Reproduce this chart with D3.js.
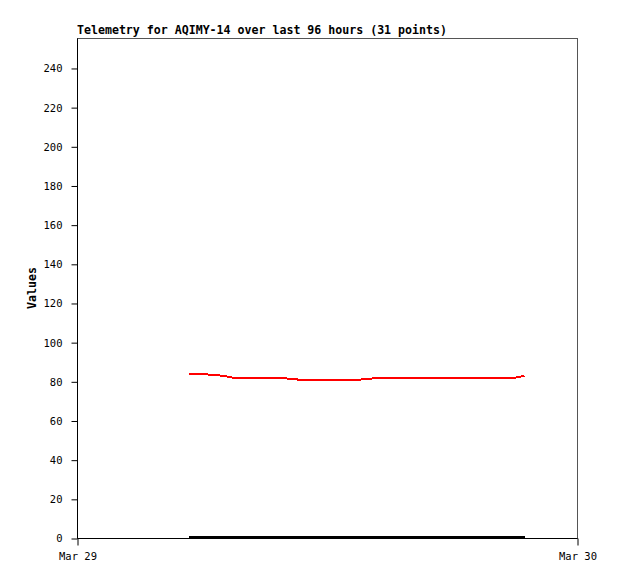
<!DOCTYPE html>
<html><head><meta charset="utf-8">
<script src="https://cdn.jsdelivr.net/npm/d3@7"></script>
<style>body{margin:0;background:#fff}svg{display:block}</style>
</head><body>
<script>
const title = "Telemetry for AQIMY-14 over last 96 hours (31 points)";
const yLabel = "Values";
const yTicks = [0,20,40,60,80,100,120,140,160,180,200,220,240];
const xTickDates = ["2024-03-29T00:00", "2024-03-30T00:00"];
const xTickLabels = ["Mar 29", "Mar 30"];
// 31 samples, ~32 min apart
const startTime = "2024-03-29T05:23";
const stepMinutes = 32.2;
const redValues = [84,84,83.6,83.1,82,82,82,82,82,81.6,81,81,81,81,81,81,81.5,82,82,82,82,82,82,82,82,82,82,82,82,82,83];
const blackValues = [0,0,0,0,0,0,0,0,0,0,0,0,0,0,0,0,0,0,0,0,0,0,0,0,0,0,0,0,0,0,0];

const W = 618, H = 579;
const m = {left:77, right:577, top:38, bottom:538};
const svg = d3.select("body").append("svg").attr("width",W).attr("height",H);

const t0 = new Date(startTime);
const times = redValues.map((_,i)=> new Date(t0.getTime() + i*stepMinutes*60000));

const x = d3.scaleTime().domain([new Date(xTickDates[0]), new Date(xTickDates[1])]).range([m.left, m.right]);
const y = d3.scaleLinear().domain([0,255.3]).range([m.bottom, m.top]);

// frame
svg.append("rect").attr("x",m.left+0.5).attr("y",m.top+0.5)
  .attr("width",m.right-m.left).attr("height",m.bottom-m.top)
  .attr("fill","none").attr("stroke","#555").attr("stroke-width",1);

const line = d3.line().x((d,i)=>x(times[i])).y(d=>y(d));
svg.append("path").datum(blackValues).attr("d",line)
  .attr("fill","none").attr("stroke","#000").attr("stroke-width",2).attr("transform","translate(0,-1)")
  .attr("shape-rendering","crispEdges");
svg.append("path").datum(redValues).attr("d",line)
  .attr("fill","none").attr("stroke","#f00").attr("stroke-width",2).attr("transform","translate(0,0.5)")
  .attr("shape-rendering","crispEdges");

const tickFont = "'DejaVu Sans Mono', monospace";
const yAxis = d3.axisLeft(y).tickValues(yTicks).tickSize(6).tickPadding(9);
const gy = svg.append("g").attr("transform",`translate(${m.left+0.5},0.5)`).call(yAxis);
gy.select(".domain").remove();
gy.append("line").attr("x1",0).attr("x2",0).attr("y1",m.top).attr("y2",m.bottom).attr("stroke","#000");
gy.selectAll("text").attr("font-family",tickFont).attr("font-size","10.5px").attr("fill","#000");

const xAxis = d3.axisBottom(x).tickValues(xTickDates.map(d=>new Date(d)))
  .tickFormat((d,i)=>xTickLabels[i]).tickSize(7).tickPadding(7);
const gx = svg.append("g").attr("transform",`translate(0.5,${m.bottom+0.5})`).call(xAxis);
gx.select(".domain").remove();
gx.append("line").attr("x1",m.left).attr("x2",m.right).attr("y1",0).attr("y2",0).attr("stroke","#000");
gx.selectAll("text").attr("font-family",tickFont).attr("font-size","10.5px").attr("fill","#000");

svg.append("text").attr("x",m.left).attr("y",34).text(title)
  .attr("font-family","'DejaVu Sans Mono', monospace").attr("font-weight","bold").attr("font-size","11.6px");

svg.append("text").attr("transform",`translate(36,${(m.top+m.bottom)/2}) rotate(-90)`)
  .attr("text-anchor","middle").text(yLabel)
  .attr("font-family","'DejaVu Sans Mono', monospace").attr("font-weight","bold").attr("font-size","11.6px");
</script>
</body></html>
